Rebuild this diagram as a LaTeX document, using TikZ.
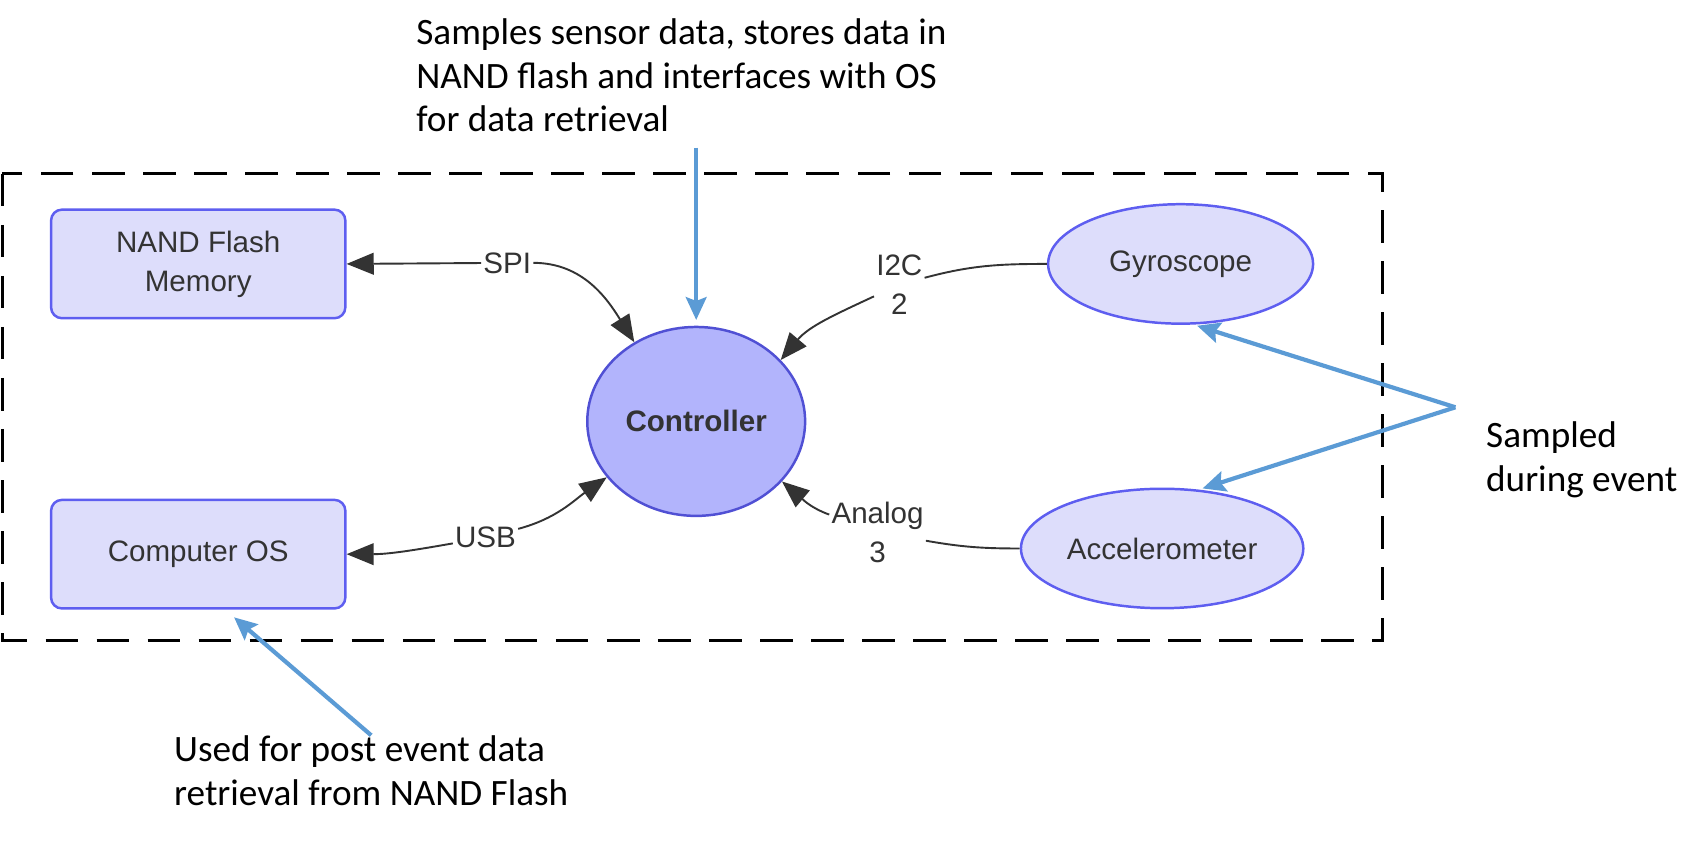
\documentclass[tikz,border=0pt]{standalone}
\usepackage{fontspec}
\setmainfont{Carlito}
\newfontfamily\lucidfont{Liberation Sans}
\usepackage{xcolor}
\usetikzlibrary{shapes.geometric, arrows.meta, positioning}
\definecolor{lucidFill}{RGB}{221,221,251}
\definecolor{lucidEdge}{RGB}{94,94,240}
\definecolor{ctrlFill}{RGB}{178,180,252}
\definecolor{ctrlEdge}{RGB}{80,80,212}
\definecolor{noteBlue}{RGB}{91,155,213}
\definecolor{lineGray}{RGB}{51,51,51}

\begin{document}
\begin{tikzpicture}[x=0.02cm, y=-0.02cm, node distance=3.3cm]
                \tikzstyle{box} = [rectangle, rounded corners=0.2cm, draw=lucidEdge, fill=lucidFill, line width=1.3pt, minimum width=5.42cm, minimum height=2cm, align=center, text=lineGray, font=\lucidfont\fontsize{15.5}{20.4}\selectfont]
                \tikzstyle{sensor} = [ellipse, draw=lucidEdge, fill=lucidFill, line width=1.3pt, minimum height=2.2cm, inner sep=0pt, text=lineGray, font=\lucidfont\fontsize{15.5}{20.4}\selectfont]
                \tikzstyle{lbl} = [fill=white, inner sep=1pt, align=center, text=lineGray, font=\lucidfont\fontsize{15.5}{20.4}\selectfont]
                \tikzstyle{link} = [lineGray, line width=1pt, -{Triangle[length=0.5cm, width=0.4cm]}]
                \tikzstyle{plainlink} = [lineGray, line width=1pt]
                \tikzstyle{note} = [noteBlue, line width=2.2pt, -{Stealth[length=0.42cm, width=0.38cm, inset=0.07cm]}]
                \tikzstyle{notetext} = [anchor=north west, inner sep=0pt, align=left, font=\fontsize{19.5}{22.8}\selectfont]

                \useasboundingbox (0,0) rectangle (1568,778);

                % dashed system boundary
                \draw[black, line width=1.6pt, dash pattern=on 0.6cm off 0.34cm] (2,160) rectangle (1273,590);

                \node[box] (nand) at (182.5,243) {NAND Flash\\Memory};
                \node[box, below=of nand] (os) {Computer OS};
                \node[ellipse, draw=ctrlEdge, fill=ctrlFill, line width=1.3pt, minimum width=4cm, minimum height=3.48cm, text=lineGray, font=\lucidfont\bfseries\fontsize{15.5}{20.4}\selectfont] (ctrl) at (641,388) {Controller};
                \node[sensor, minimum width=4.88cm] (gyro) at (1087,243) {Gyroscope};
                \node[sensor, minimum width=5.2cm] (accel) at (1070,505) {Accelerometer};

                % bus labels
                \node[lbl] (spi) at (467,242) {SPI};
                \node[lbl] (usb) at (447,495) {USB};
                \node[lbl] (i2c) at (828,262) {I2C\\2};
                \node[lbl] (analog) at (808,490) {Analog\\3};

                \draw[link] (spi) -- (nand.east);
                \draw[link] (spi) to[out=0, in=122] (ctrl.128);
                \draw[link] (usb) to[out=190, in=0] (os.east);
                \draw[link] (usb) to[out=15, in=215] (ctrl.212);
                \draw[plainlink] (gyro.west) to[out=180, in=15] (i2c);
                \draw[link] (i2c) to[out=205, in=50] (ctrl.36);
                \draw[plainlink] (accel.west) to[out=180, in=-10] (analog);
                \draw[link] (analog) to[out=160, in=-40] (ctrl.325);

                % annotations
                \node[notetext] (ctrlnote) at (383,17) {Samples sensor data, stores data in\\NAND flash and interfaces with OS\\for data retrieval};
                \node[notetext] (samplenote) at (1368,388) {Sampled\\during event};
                \node[notetext] (osnote) at (160,677) {Used for post event data\\retrieval from NAND Flash};
                \coordinate (fork) at (1340,375);

                \draw[note, shorten >=3pt] (ctrl.north |- ctrlnote.south) ++(0,14) -- (ctrl.north);
                \draw[note, shorten >=2pt] (fork) -- (gyro.-78);
                \draw[note, shorten >=2pt] (fork) -- (accel.58);
                \draw[note] (osnote.north) -- ([xshift=0.66cm, yshift=-0.14cm]os.south);
            \end{tikzpicture}
\end{document}
